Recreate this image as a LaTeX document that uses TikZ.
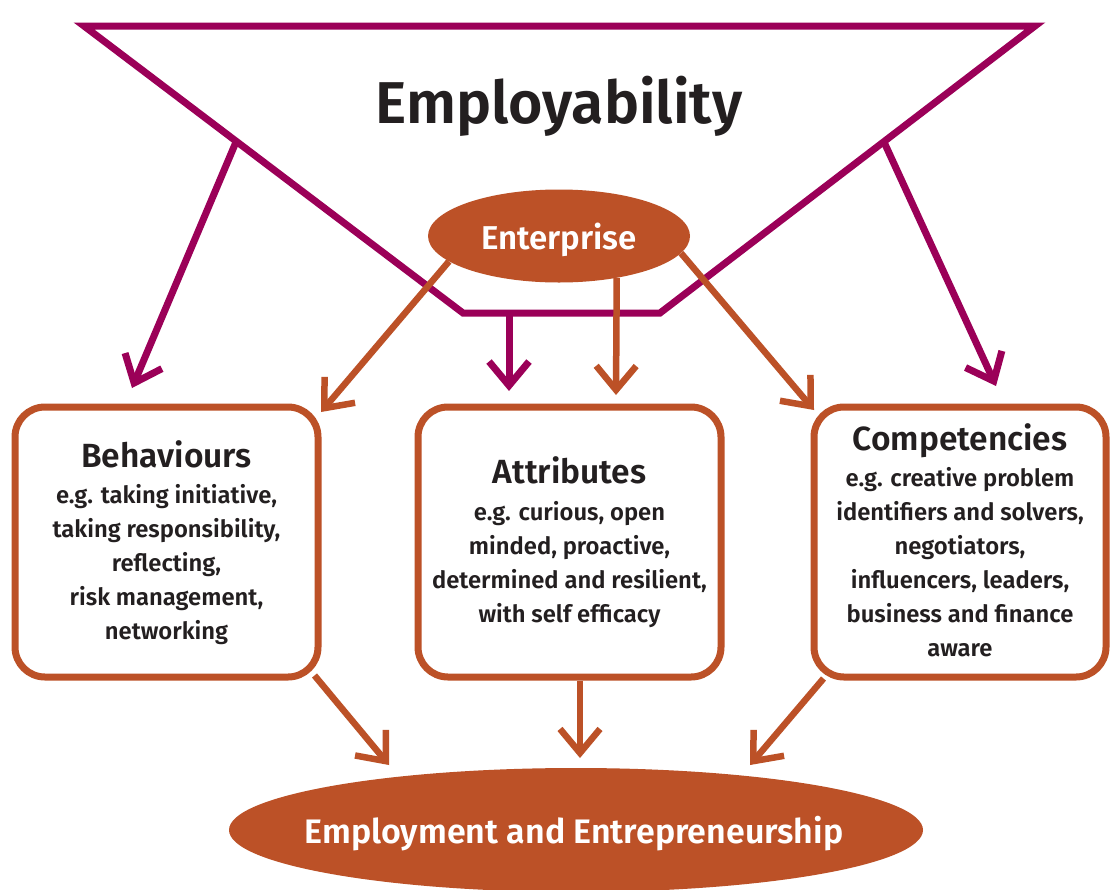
\documentclass[tikz,border=0pt]{standalone}
\usepackage{fontspec}
\setmainfont{Fira Sans}[BoldFont={* SemiBold}]
\usetikzlibrary{arrows.meta,shapes.geometric,calc}
\definecolor{mag}{HTML}{9B0058}
\definecolor{org}{HTML}{BC5127}
\definecolor{ink}{HTML}{231F20}
\begin{document}
\begin{tikzpicture}[x=1pt,y=-1pt,
  funnel/.style={draw=mag, line width=7pt, line join=miter},
  marrow/.style={draw=mag, line width=7pt, -{Straight Barb[length=24pt,width=40pt]}},
  oarrow/.style={draw=org, line width=6.5pt, -{Straight Barb[length=24pt,width=40pt]}},
  box/.style={draw=org, line width=7pt, rounded corners=30pt, minimum height=270pt, inner sep=0pt},
  oval/.style={ellipse, fill=org, inner sep=0pt},
  ovaltext/.style={text=white, inner sep=0pt, text depth=0pt},
  title/.style={anchor=base, text=ink, font=\fontsize{33.5}{36}\selectfont\bfseries, inner sep=0pt},
  body/.style={text=ink, align=center, font=\fontsize{23.8}{34}\selectfont\bfseries, inner sep=0pt}]
\useasboundingbox (0,0) rectangle (1110,889);
\fill[white] (0,0) rectangle (1110,889);

% funnel
\draw[funnel] (84,26) -- (1035,26) -- (660,313) -- (463,313) -- cycle;
\coordinate (fl) at (236,142);
\coordinate (fr) at (884,142);
\coordinate (fb) at (509,313);
\node[anchor=base, text=ink, font=\fontsize{59}{64}\selectfont\bfseries, inner sep=0pt] (emp) at (559,123) {Employability};

% nodes
\node[oval, minimum width=262pt, minimum height=93pt] (ent) at (559,236) {};
\node[ovaltext, font=\fontsize{33}{36}\selectfont\bfseries] (entT) at (559,236) {Enterprise};
\node[box, minimum width=303pt] (beh) at (166.5,542) {};
\node[box, minimum width=303pt] (att) at (569.5,542) {};
\node[box, minimum width=292pt] (com) at (960,542) {};
\node[oval, minimum width=694pt, minimum height=124pt] (out) at (576,830) {};
\node[ovaltext, font=\fontsize{34}{38}\selectfont\bfseries] (outT) at (574,830) {Employment and Entrepreneurship};

\node[title] (behT) at (166.5,467) {Behaviours};
\node[title] (attT) at (569.5,483) {Attributes};
\node[title] (comT) at (960,450) {Competencies};
\node[body] (behB) at (166.5,564.5) {e.g. taking initiative,\\taking responsibility,\\reflecting,\\risk management,\\networking};
\node[body] (attB) at (569.5,564.5) {e.g. curious, open\\minded, proactive,\\determined and resilient,\\with self efficacy};
\node[body] (comB) at (960,562.5) {e.g. creative problem\\identifiers and solvers,\\negotiators,\\influencers, leaders,\\business and finance\\aware};

% arrow tips
\coordinate (m1) at (132,388);
\coordinate (m2) at (509,391);
\coordinate (m3) at (996,386);
\coordinate (o1) at (321,412);
\coordinate (o2) at (616,395);
\coordinate (o3) at (814,410);
\coordinate (p1) at (389,765);
\coordinate (p2) at (580,758);
\coordinate (p3) at (750,765);

% magenta connectors
\draw[marrow] (fl) -- (m1);
\draw[marrow] (fb) -- (m2);
\draw[marrow] (fr) -- (m3);

% orange connectors
\draw[oarrow] (ent.193) -- (o1);
\draw[oarrow] (ent.-36.4) -- (o2);
\draw[oarrow] (ent.-8.9) -- (o3);
\draw[oarrow] ($(beh.south east)+(-7,-5)$) -- (p1);
\draw[oarrow] ($(att.south)+(10.5,0)$) -- (p2);
\draw[oarrow] ($(com.south west)+(13,-2)$) -- (p3);
\end{tikzpicture}
\end{document}
